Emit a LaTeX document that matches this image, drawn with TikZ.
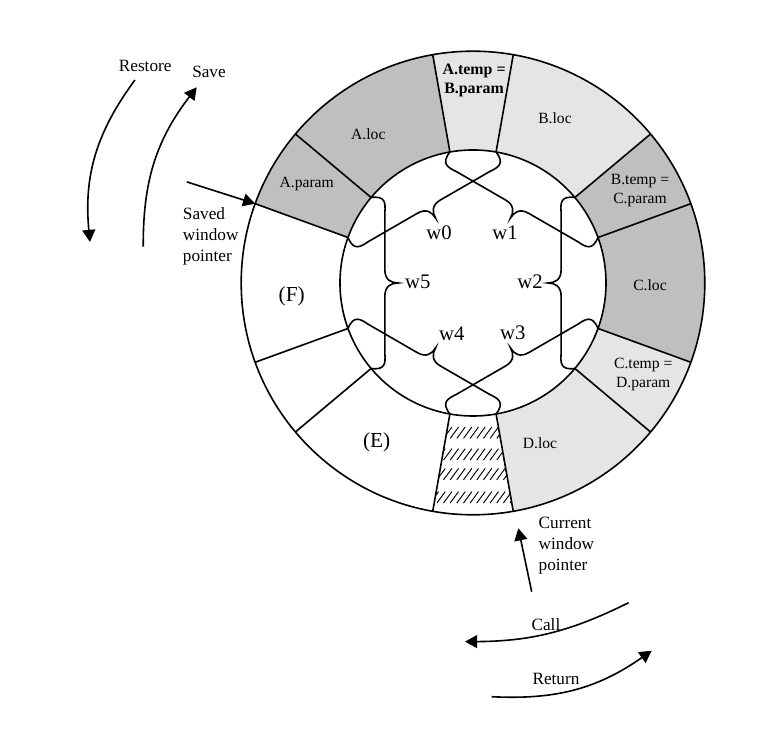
\documentclass[tikz,border=0pt]{standalone}
\usepackage{fontspec}
\setmainfont{Liberation Serif}
\usetikzlibrary{arrows.meta}
\definecolor{darkSeg}{gray}{0.75}
\definecolor{lightSeg}{gray}{0.9}

\begin{document}
\begin{tikzpicture}[line width=1.2pt,
    seglabel/.style={font=\fontsize{11.7}{14.2}\selectfont, align=center},
    sidelabel/.style={font=\fontsize{12.9}{15.7}\selectfont, align=left},
    winlabel/.style={font=\fontsize{15.5}{18}\selectfont},
    arr/.style={-{Triangle[length=0.32cm,width=0.34cm]}}]
    \useasboundingbox (-12.447,-11.921) rectangle (7.921,7.447);
    % shaded parts of the ring
    \foreach \a/\b/\c in {100/160/darkSeg, -20/40/darkSeg, 40/100/lightSeg, 280/340/lightSeg}
        \fill[\c] (\a:3.5) arc (\a:\b:3.5) -- (\b:6.1) arc (\b:\a:6.1) -- cycle;
    % hatched window
    \begin{scope}
        \clip (260:3.5) arc (260:280:3.5) -- (280:6.1) arc (280:260:6.1) -- cycle;
        \foreach \y in {-4.09,-4.66,-5.18,-5.79}
            \foreach \x in {-1.3,-1.125,...,1.1}
                \draw[line width=0.7pt] (\x,\y) -- ++(0.22,0.3);
    \end{scope}
    \draw (0,0) circle (6.1);
    \draw (0,0) circle (3.5);
    \foreach \a in {20,40,80,100,140,160,200,220,260,280,320,340}
        \draw (\a:3.5) -- (\a:6.1);
    % window braces
    \foreach \k in {0,...,5}
        \draw[rotate={-60*\k}] (140:3.5) .. controls (-2.3,2.3) and (-2.3,2.1) .. (-2.32,1.85)
            -- (-2.32,0.35) .. controls (-2.32,0.08) and (-2.15,0) .. (-1.97,0)
            .. controls (-2.15,0) and (-2.32,-0.08) .. (-2.32,-0.35)
            -- (-2.32,-1.85) .. controls (-2.3,-2.1) and (-2.3,-2.3) .. (220:3.5);
    \node[winlabel] (w0) at (-0.895,1.31) {w0};
    \node[winlabel] (w1) at (0.842,1.316) {w1};
    \node[winlabel] (w2) at (1.5,0.03) {w2};
    \node[winlabel] (w3) at (1.05,-1.316) {w3};
    \node[winlabel] (w4) at (-0.56,-1.34) {w4};
    \node[winlabel] (w5) at (-1.455,0.03) {w5};
    % ring labels
    \node[seglabel, font=\fontsize{11.9}{14.4}\selectfont\bfseries] (atemp) at (0.03,5.33) {A.temp =\\B.param};
    \node[seglabel] (aloc) at (-2.755,3.92) {A.loc};
    \node[seglabel] (aparam) at (-4.376,2.6) {A.param};
    \node[seglabel] (bloc) at (2.158,4.334) {B.loc};
    \node[seglabel] (btemp) at (4.395,2.42) {B.temp =\\C.param};
    \node[seglabel] (cloc) at (4.658,-0.053) {C.loc};
    \node[seglabel] (ctemp) at (4.48,-2.42) {C.temp =\\D.param};
    \node[seglabel] (dloc) at (1.763,-4.22) {D.loc};
    \node[winlabel, font=\fontsize{16}{18}\selectfont] (winE) at (-2.534,-4.2) {(E)};
    \node[winlabel, font=\fontsize{16}{18}\selectfont] (winF) at (-4.77,-0.36) {(F)};
    % pointers
    \coordinate (swp) at (160:6.1);
    \coordinate (swpstart) at (-7.53,2.66);
    \draw[arr] (swpstart) -- (swp);
    \node[sidelabel, anchor=west] (swplabel) at (-7.77,1.22) {Saved\\window\\pointer};
    \coordinate (cwp) at (1.193,-6.455);
    \coordinate (cwpstart) at (1.545,-8.124);
    \draw[arr] (cwpstart) -- (cwp);
    \node[sidelabel, anchor=west] (cwplabel) at (1.59,-6.916) {Current\\window\\pointer};
    % save / restore
    \coordinate (restoreA) at (-8.895,5.342);
    \coordinate (restoreB) at (-10.079,1.079);
    \draw[arr] (restoreA) to[bend right=21] (restoreB);
    \node[sidelabel] (restore) at (-8.626,5.72) {Restore};
    \coordinate (saveA) at (-8.676,0.955);
    \coordinate (saveB) at (-7.271,5.15);
    \draw[arr] (saveA) to[bend left=19] (saveB);
    \node[sidelabel] (save) at (-6.947,5.56) {Save};
    % call / return
    \coordinate (callA) at (4.097,-8.413);
    \coordinate (callB) at (-0.211,-9.439);
    \draw[arr] (callA) to[bend left=13] (callB);
    \node[sidelabel] (call) at (1.92,-9.0) {Call};
    \coordinate (retA) at (0.492,-10.887);
    \coordinate (retB) at (4.703,-9.676);
    \draw[arr] (retA) to[bend right=19] (retB);
    \node[sidelabel] (return) at (2.184,-10.42) {Return};
\end{tikzpicture}
\end{document}
